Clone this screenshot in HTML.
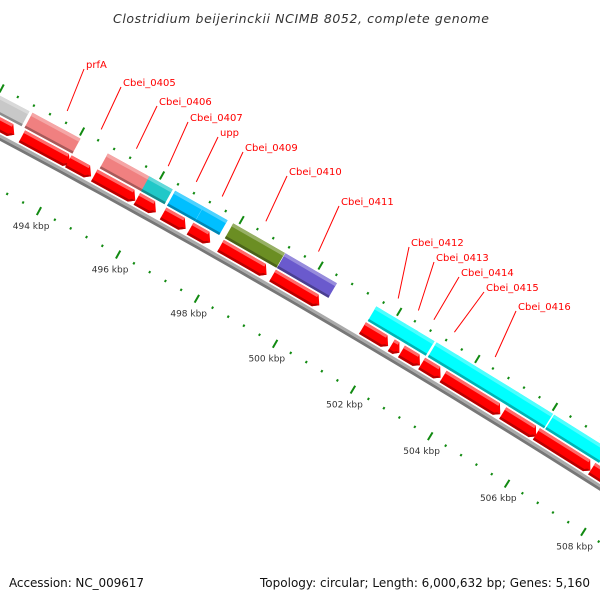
<!DOCTYPE html>
<html><head><meta charset="utf-8"><style>
html,body{margin:0;padding:0;background:#fff;width:600px;height:600px;overflow:hidden;}
svg{display:block;font-family:"DejaVu Sans","Liberation Sans",sans-serif;overflow:hidden;}
</style></head><body>
<svg id="map" width="600" height="600" viewBox="0 0 600 600">
<text x="301" y="23" text-anchor="middle" font-size="12.5" font-style="italic" fill="#333" textLength="376">Clostridium beijerinckii NCIMB 8052, complete genome</text>
<g id="plot"></g>
<text x="9" y="587" font-size="12" fill="#111" textLength="135">Accession: NC_009617</text>
<text x="590" y="587" text-anchor="end" font-size="12" fill="#111" textLength="330">Topology: circular; Length: 6,000,632 bp; Genes: 5,160</text>
</svg>
<script>
// CDS features (kbp) on the red track
var cdsStart = [490.0, 492.86, 494.02, 494.67, 495.74, 496.40, 497.08, 497.85, 499.17, 501.46, 502.20, 502.46, 502.98, 503.53, 505.07, 505.94, 507.38];
var cdsEnd   = [492.75, 494.14, 494.67, 495.78, 496.30, 497.05, 497.67, 499.10, 500.44, 502.20, 502.49, 503.02, 503.55, 505.09, 506.02, 507.43, 509.5];
// coloured feature track (kbp)
var featStart = [490.0, 492.82, 494.70, 495.74, 496.39, 497.10, 497.85, 499.17, 501.48, 502.22, 502.51, 503.02, 503.55, 505.09, 506.05, 507.50];
var featEnd   = [492.80, 494.07, 495.87, 496.38, 497.15, 497.76, 499.21, 500.53, 502.29, 502.60, 503.02, 503.67, 505.18, 506.07, 507.50, 509.5];
var featColor = ["#c8c8c8","#f08080","#f08080","#20c8c8","#00bfff","#00bfff","#6b8e23","#6a5acd","#00ffff","#00ffff","#00ffff","#00ffff","#00ffff","#00ffff","#00ffff","#00ffff"];
// labels: name and index of labelled CDS
var labelNames = ["prfA","Cbei_0405","Cbei_0406","Cbei_0407","upp","Cbei_0409","Cbei_0410","Cbei_0411","Cbei_0412","Cbei_0413","Cbei_0414","Cbei_0415","Cbei_0416"];
var labelCds   = [1,2,3,4,5,6,7,8,9,10,11,12,13];
var labelX = [86,123,159,190,220,245,289,341,411,436,461,486,518];
var labelY = [68,86,105,121,136,151,175,205,246,261,276,291,310];
// axis ticks
var majorTicks = [492, 494, 496, 498, 500, 502, 504, 506, 508, 510];
var tickLabels = ["492 kbp","494 kbp","496 kbp","498 kbp","500 kbp","502 kbp","504 kbp","506 kbp","508 kbp","510 kbp"];
var minorStep = 0.4;

var R = 8900, P0x = 0, P0y = 134, phi0 = 28 * Math.PI / 180, PXK = 45.4;
function sOf(k){ return 71 + (k - 494) * PXK; }
function pt(k, d){
  var ph = phi0 + sOf(k) / R;
  return [P0x + R * (Math.sin(ph) - Math.sin(phi0)) + d * Math.sin(ph),
          P0y + R * (Math.cos(phi0) - Math.cos(ph)) - d * Math.cos(ph)];
}
var NS = "http://www.w3.org/2000/svg";
var plot = document.getElementById("plot");
function mk(tag, attrs){ var e = document.createElementNS(NS, tag); for (var a in attrs) e.setAttribute(a, attrs[a]); plot.appendChild(e); return e; }
function pts(arr){ return arr.map(function(p){ return p[0].toFixed(1) + "," + p[1].toFixed(1); }).join(" "); }
function band(k1, k2, d1, d2){ return [pt(k1,d1), pt(k2,d1), pt(k2,d2), pt(k1,d2)]; }
var g = 1.2 / PXK;

// backbone
var bb1 = [], bb2 = [];
for (var k = 490; k <= 510; k += 0.5) { bb1.push(pt(k, -1.8)); bb2.push(pt(k, -4.6)); }
var b = mk("polyline", {points: pts(bb2), fill: "none", stroke: "#777", "stroke-width": 3});


b = mk("polyline", {points: pts(bb1), fill: "none", stroke: "#aaa", "stroke-width": 3});



// ticks
for (var i = 0; i * minorStep + 491 <= 509.8; i++) {
  var kk = 491.2 + i * minorStep;
  var major = Math.abs(kk / 2 - Math.round(kk / 2)) < 1e-6;
  var a1 = major ? pt(kk, 36.5) : pt(kk, 39.8), a2 = major ? pt(kk, 45.5) : pt(kk, 42.2);
  var t = mk("line", {x1: a1[0], y1: a1[1], x2: a2[0], y2: a2[1], stroke: "#118a11", "stroke-width": 2});
  
  
  var c1 = major ? pt(kk, -45) : pt(kk, -48.3), c2 = major ? pt(kk, -54) : pt(kk, -50.7);
  t = mk("line", {x1: c1[0], y1: c1[1], x2: c2[0], y2: c2[1], stroke: "#118a11", "stroke-width": 2});
  
  
}
for (var i = 0; i < majorTicks.length; i++) {
  var p = pt(majorTicks[i], -66);
  if (p[0] < 0 || p[0] > 600 || p[1] > 560) continue;
  var tl = mk("text", {x: p[0].toFixed(1), y: (p[1] + 3.5).toFixed(1), "text-anchor": "middle", "font-size": 9, fill: "#333"});
  tl.textContent = tickLabels[i];
  
  
}

// coloured features
function shade(hex, f){
  var n = parseInt(hex.slice(1), 16), r = n >> 16, gg = (n >> 8) & 255, bl = n & 255;
  function c(v){ return Math.max(0, Math.min(255, Math.round(f > 0 ? v + (255 - v) * f : v * (1 + f)))); }
  return "rgb(" + c(r) + "," + c(gg) + "," + c(bl) + ")";
}
for (var i = 0; i < featStart.length; i++) {
  var k1 = featStart[i] + g, k2 = featEnd[i] - g;
  var e = mk("polygon", {points: pts(band(k1, k2, 17, 34)), fill: featColor[i]});
  
  
  e = mk("polygon", {points: pts(band(k1, k2, 30.5, 34)), fill: shade(featColor[i], 0.3)});
  
  
  e = mk("polygon", {points: pts(band(k1, k2, 17, 19.5)), fill: shade(featColor[i], -0.3)});
  
  
}

// CDS arrows
for (var i = 0; i < cdsStart.length; i++) {
  var k1 = cdsStart[i] + g, k2 = cdsEnd[i] - g;
  var h = Math.min(6, (k2 - k1) * PXK * 0.5) / PXK;
  var lo = 1.5, hi = 15, mid = 6;
  var poly = [pt(k1, lo), pt(k2 - h, lo), pt(k2, mid), pt(k2 - h, hi), pt(k1, hi)];
  var e = mk("polygon", {points: pts(poly), fill: "#ff0000"});
  
  
  e = mk("polygon", {points: pts([pt(k1, 12), pt(k2 - h, 12), pt(k2 - h, hi), pt(k1, hi)]), fill: "#ff6a6a"});
  
  
  e = mk("polygon", {points: pts([pt(k1, lo), pt(k2 - h, lo), pt(k2, mid), pt(k2 - h * 0.6, mid), pt(k2 - h, lo + 2.5), pt(k1, lo + 2.5)]), fill: "#b80000"});
  
  
}

// labels
for (var i = 0; i < labelNames.length; i++) {
  var j = labelCds[i];
  var s = pt((cdsStart[j] + cdsEnd[j]) / 2, 52);
  var ln = mk("line", {x1: s[0].toFixed(1), y1: s[1].toFixed(1), x2: labelX[i] - 2, y2: labelY[i] + 1, stroke: "#ff0000", "stroke-width": 1});
  
  
  var tx = mk("text", {x: labelX[i], y: labelY[i], "font-size": 10, fill: "#ff0000"});
  tx.textContent = labelNames[i];
  
  
}
</script>
</body></html>
